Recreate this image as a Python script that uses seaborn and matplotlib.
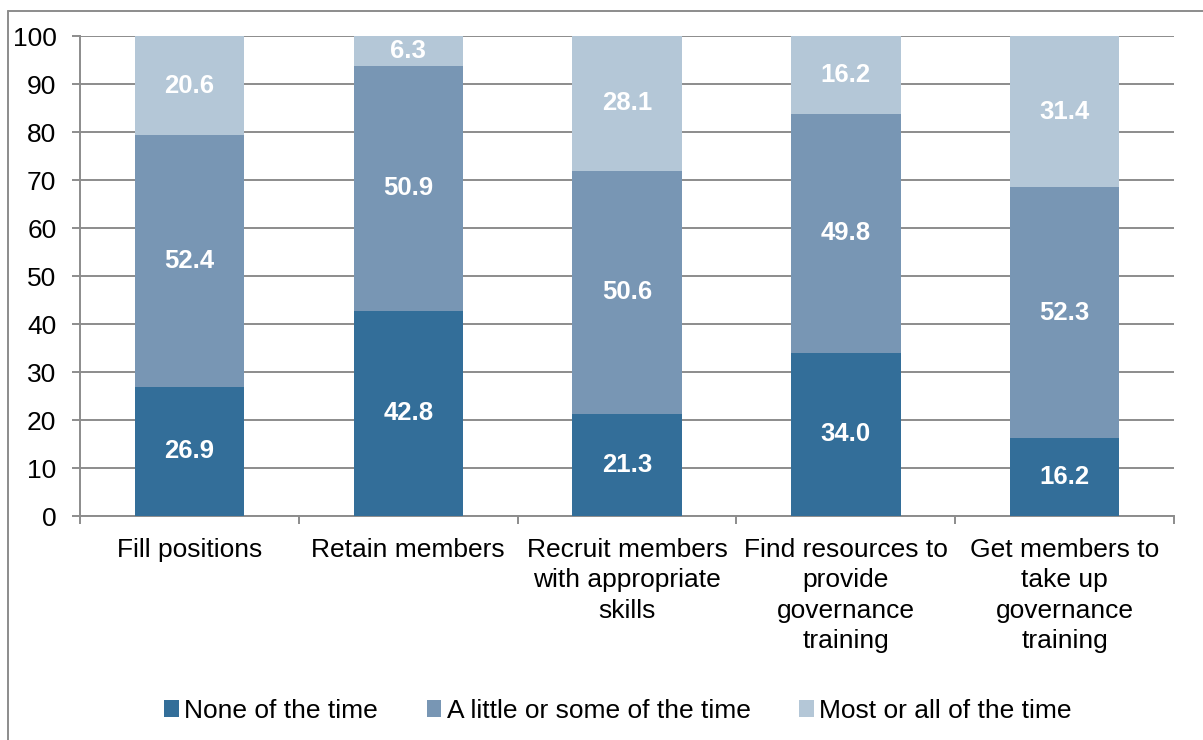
import numpy as np
import pandas as pd
import matplotlib
matplotlib.use("Agg")
import matplotlib.pyplot as plt
from matplotlib.patches import Patch
from matplotlib.lines import Line2D
import seaborn as sns

categories = [
    "Fill positions",
    "Retain members",
    "Recruit members\nwith appropriate\nskills",
    "Find resources to\nprovide\ngovernance\ntraining",
    "Get members to\ntake up\ngovernance\ntraining",
]
series_names = ["None of the time", "A little or some of the time", "Most or all of the time"]
none_vals = [26.9, 42.8, 21.3, 34.0, 16.2]
little_vals = [52.4, 50.9, 50.6, 49.8, 52.3]
most_vals = [20.6, 6.3, 28.1, 16.2, 31.4]
colors = ["#336e99", "#7896b4", "#b4c7d7"]
y_ticks = [0, 10, 20, 30, 40, 50, 60, 70, 80, 90, 100]

sns.set_theme(style="white")
plt.rcParams["font.family"] = ["Liberation Sans", "DejaVu Sans"]
plt.rcParams["text.color"] = "black"

fig = plt.figure(figsize=(12.03, 7.40), dpi=100)
ax = fig.add_axes([80 / 1203, 1 - 516 / 740, (1174 - 80) / 1203, (516 - 36) / 740])

series = [none_vals, little_vals, most_vals]
cum = np.cumsum(np.array(series), axis=0)

# Draw stacked bars from the tallest cumulative total down
for i in reversed(range(len(series))):
    df = pd.DataFrame({"category": categories, "value": cum[i]})
    sns.barplot(data=df, x="category", y="value", color=colors[i], saturation=1,
                width=0.5, ax=ax, zorder=3, linewidth=0)

# Segment labels
for i, vals in enumerate(series):
    for j, v in enumerate(vals):
        bottom = cum[i][j] - v
        ax.text(j, bottom + v / 2, f"{v:.1f}", ha="center", va="center",
                color="white", fontsize=18.5, fontweight="bold", zorder=5)

ax.set_xlim(-0.5, len(categories) - 0.5)
ax.set_ylim(0, 100)
ax.set_yticks(y_ticks)
ax.set_xlabel("")
ax.set_ylabel("")
ax.yaxis.grid(True, color="#8c8c8c", linewidth=1.4, zorder=0)
ax.set_axisbelow(True)

for s in ["top", "right"]:
    ax.spines[s].set_visible(False)
for s in ["left", "bottom"]:
    ax.spines[s].set_color("#8c8c8c")
    ax.spines[s].set_linewidth(1.4)

ax.tick_params(axis="y", which="major", length=6, width=1.4, color="#8c8c8c",
               direction="out", pad=11, labelsize=19, labelcolor="black", left=True)
ax.set_xticks(np.arange(len(categories)))
ax.set_xticklabels(categories, fontsize=19, linespacing=1.33, color="black")
ax.tick_params(axis="x", which="major", length=0, pad=16)
ax.set_xticks(np.arange(-0.5, len(categories)), minor=True)
ax.tick_params(axis="x", which="minor", length=6, width=1.4, color="#8c8c8c",
               direction="out", bottom=True)

# Legend
handles = [Patch(facecolor=c, edgecolor="none") for c in colors]
fig.legend(handles, series_names, loc="center", bbox_to_anchor=(618 / 1203, 1 - 711 / 740),
           ncol=3, frameon=False, fontsize=19, handlelength=0.55, handleheight=0.6,
           handletextpad=0.2, columnspacing=1.85, labelcolor="black")

# Chart frame
fig.add_artist(Line2D([8 / 1203, 1.0], [1 - 11 / 740, 1 - 11 / 740],
                      transform=fig.transFigure, color="#8c8c8c", linewidth=1.4))
fig.add_artist(Line2D([8 / 1203, 8 / 1203], [0, 1 - 11 / 740],
                      transform=fig.transFigure, color="#8c8c8c", linewidth=1.4))

fig.savefig("out.png", dpi=100, facecolor="white")
